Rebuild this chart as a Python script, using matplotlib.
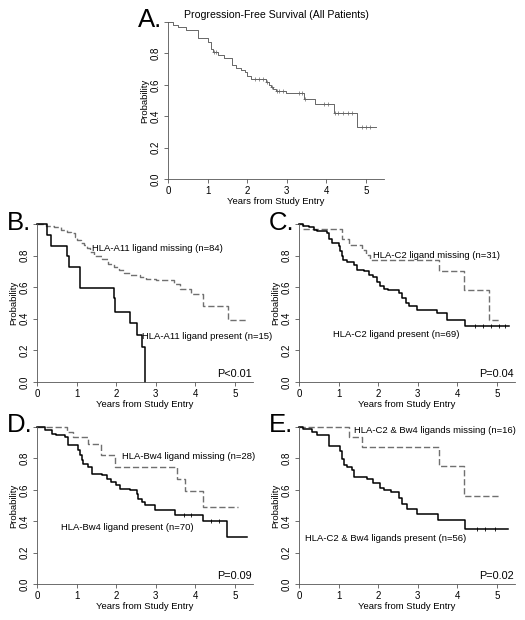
import numpy as np
import matplotlib
matplotlib.use("Agg")
import matplotlib.pyplot as plt

plt.rcParams['font.family'] = ['Liberation Sans', 'DejaVu Sans']

# ---- panel A: all patients
a_t = [0, 0.12, 0.25, 0.45, 0.76, 1.01, 1.08, 1.13, 1.26, 1.41, 1.62, 1.72, 1.85, 1.95, 2.0, 2.1,
       2.48, 2.55, 2.61, 2.65, 2.72, 2.98, 3.44, 3.72, 4.18, 4.78, 5.24]
a_s = [1.0, 0.98, 0.97, 0.95, 0.896, 0.87, 0.826, 0.81, 0.79, 0.77, 0.726, 0.71, 0.695, 0.679, 0.657, 0.64,
       0.62, 0.60, 0.585, 0.572, 0.562, 0.546, 0.507, 0.478, 0.418, 0.333, 0.333]
a_cens = [1.15, 1.2, 2.2, 2.3, 2.4, 2.5, 2.63, 2.75, 2.8, 2.9, 3.3, 3.38, 3.45, 3.95, 4.05, 4.22, 4.3,
          4.42, 4.55, 4.65, 4.9, 5.0, 5.1]

# ---- panel B: HLA-A11
b_pres_t = [0, 0.24, 0.35, 0.77, 0.8, 1.09, 1.94, 1.97, 2.35, 2.53, 2.64, 2.73]
b_pres_s = [1.0, 0.93, 0.86, 0.80, 0.726, 0.595, 0.53, 0.443, 0.371, 0.295, 0.22, 0.0]
b_miss_t = [0, 0.22, 0.42, 0.6, 0.75, 0.85, 0.95, 1.02, 1.1, 1.18, 1.27, 1.35, 1.45, 1.65, 1.8, 1.95,
            2.08, 2.2, 2.35, 2.6, 2.75, 3.0, 3.45, 3.6, 3.88, 4.2, 4.83, 5.3]
b_miss_s = [1.0, 0.99, 0.98, 0.965, 0.95, 0.94, 0.92, 0.90, 0.88, 0.865, 0.845, 0.825, 0.80, 0.78, 0.75, 0.73,
            0.71, 0.69, 0.68, 0.665, 0.65, 0.645, 0.62, 0.59, 0.555, 0.48, 0.39, 0.39]

# ---- panel C: HLA-C2
c_pres_t = [0, 0.1, 0.24, 0.37, 0.45, 0.71, 0.77, 0.83, 1.0, 1.04, 1.08, 1.12, 1.2, 1.38, 1.46, 1.63, 1.76,
            1.88, 1.97, 2.05, 2.14, 2.26, 2.52, 2.6, 2.69, 2.77, 2.98, 3.49, 3.74, 4.2, 5.3]
c_pres_s = [1.0, 0.99, 0.979, 0.964, 0.954, 0.943, 0.907, 0.88, 0.859, 0.827, 0.795, 0.774, 0.76, 0.743, 0.711,
            0.70, 0.68, 0.663, 0.633, 0.605, 0.591, 0.585, 0.563, 0.532, 0.50, 0.479, 0.458, 0.437, 0.395, 0.352, 0.352]
c_pres_cens = [4.45, 4.65, 4.85, 5.05, 5.2]
c_miss_t = [0, 0.1, 1.08, 1.25, 1.58, 1.68, 1.8, 3.53, 4.16, 4.81, 5.08]
c_miss_s = [1.0, 0.968, 0.905, 0.87, 0.838, 0.806, 0.774, 0.70, 0.58, 0.39, 0.39]

# ---- panel D: HLA-Bw4
d_pres_t = [0, 0.2, 0.37, 0.49, 0.71, 0.79, 1.04, 1.09, 1.13, 1.17, 1.3, 1.38, 1.63, 1.76, 1.88, 2.0, 2.09,
            2.35, 2.52, 2.56, 2.65, 2.73, 2.98, 3.48, 4.18, 4.81, 5.3]
d_pres_s = [1.0, 0.979, 0.958, 0.947, 0.936, 0.883, 0.851, 0.82, 0.788, 0.766, 0.745, 0.703, 0.692, 0.671, 0.65,
            0.628, 0.607, 0.597, 0.575, 0.544, 0.522, 0.501, 0.469, 0.442, 0.40, 0.30, 0.30]
d_pres_cens = [3.7, 3.9, 4.4, 4.6]
d_miss_t = [0, 0.75, 0.9, 1.3, 1.61, 1.97, 3.53, 3.74, 4.18, 5.08]
d_miss_s = [1.0, 0.968, 0.936, 0.893, 0.819, 0.745, 0.671, 0.592, 0.49, 0.49]

# ---- panel E: HLA-C2 & Bw4
e_pres_t = [0, 0.1, 0.33, 0.45, 0.75, 0.77, 1.04, 1.09, 1.13, 1.21, 1.34, 1.4, 1.72, 1.88, 2.05, 2.14, 2.33,
            2.52, 2.59, 2.73, 2.98, 3.5, 4.18, 5.28]
e_pres_s = [1.0, 0.989, 0.968, 0.947, 0.926, 0.877, 0.845, 0.798, 0.76, 0.745, 0.724, 0.682, 0.667, 0.646, 0.612,
            0.597, 0.586, 0.548, 0.512, 0.476, 0.444, 0.406, 0.353, 0.353]
e_pres_cens = [4.5, 4.7, 4.95]
e_miss_t = [0, 1.25, 1.6, 3.53, 4.16, 5.08]
e_miss_s = [1.0, 0.9375, 0.875, 0.75, 0.5625, 0.5625]

W, H = 525, 620
fig = plt.figure(figsize=(W / 100, H / 100), dpi=100)
FS = 6.8


def make_axes(left_px, bottom_px, top_px):
    width_px = 5.45 * 39.6
    ax = fig.add_axes([left_px / W, 1 - bottom_px / H, width_px / W, (bottom_px - top_px) / H])
    ax.set_xlim(0, 5.45)
    ax.set_ylim(0, 1.0)
    for sp in ['top', 'right']:
        ax.spines[sp].set_visible(False)
    for sp in ['left', 'bottom']:
        ax.spines[sp].set_linewidth(0.6)
        ax.spines[sp].set_color('#555555')
    ax.set_xticks(range(6))
    ax.set_yticks([0, 0.2, 0.4, 0.6, 0.8, 1.0])
    ax.set_yticklabels(['0.0', '0.2', '0.4', '0.6', '0.8', ''], rotation=90, va='center')
    ax.tick_params(direction='out', length=3, width=0.6, color='#555555', labelsize=7, pad=2)
    ax.set_xlabel('Years from Study Entry', fontsize=FS, labelpad=1)
    ax.set_ylabel('Probability', fontsize=FS, labelpad=1)
    ax.patch.set_alpha(0)
    return ax


def solid(ax, t, s, cens=()):
    ax.step(t, s, where='post', color='black', lw=1.1, clip_on=False)
    if len(cens):
        cy = [s[np.searchsorted(t, c, side='right') - 1] for c in cens]
        ax.plot(cens, cy, ls='none', marker='|', ms=3, mew=0.6, color='black', clip_on=False)


def dashed(ax, t, s):
    ax.step(t, s, where='post', color='#707070', lw=1.0, dashes=(4.5, 2), clip_on=False)


def letter(x_px, y_px, txt):
    fig.text(x_px / W, 1 - y_px / H, txt, fontsize=18.5, ha='left', va='baseline')


# A
axA = make_axes(168, 179, 22)
axA.step(a_t, a_s, where='post', color='#666666', lw=0.7)
cy = [a_s[np.searchsorted(a_t, c, side='right') - 1] for c in a_cens]
axA.plot(a_cens, cy, ls='none', marker='+', ms=3, mew=0.5, color='#666666')
axA.text(2.75, 1.015, 'Progression-Free Survival (All Patients)', fontsize=7.6, ha='center', va='bottom')
letter(138, 27, 'A.')

# B
axB = make_axes(37, 382, 224)
dashed(axB, b_miss_t, b_miss_s)
solid(axB, b_pres_t, b_pres_s)
axB.text(1.39, 0.845, 'HLA-A11 ligand missing (n=84)', fontsize=FS, va='center')
axB.text(2.64, 0.29, 'HLA-A11 ligand present (n=15)', fontsize=FS, va='center', clip_on=False)
axB.text(5.42, 0.02, 'P<0.01', fontsize=7.8, ha='right', va='bottom')
letter(7, 230, 'B.')

# C
axC = make_axes(299, 382, 224)
dashed(axC, c_miss_t, c_miss_s)
solid(axC, c_pres_t, c_pres_s, c_pres_cens)
axC.text(1.87, 0.80, 'HLA-C2 ligand missing (n=31)', fontsize=FS, va='center')
axC.text(0.85, 0.30, 'HLA-C2 ligand present (n=69)', fontsize=FS, va='center')
axC.text(5.42, 0.02, 'P=0.04', fontsize=7.8, ha='right', va='bottom')
letter(269, 230, 'C.')

# D
axD = make_axes(37, 584, 427)
dashed(axD, d_miss_t, d_miss_s)
solid(axD, d_pres_t, d_pres_s, d_pres_cens)
axD.text(2.14, 0.813, 'HLA-Bw4 ligand missing (n=28)', fontsize=FS, va='center')
axD.text(0.6, 0.357, 'HLA-Bw4 ligand present (n=70)', fontsize=FS, va='center')
axD.text(5.42, 0.02, 'P=0.09', fontsize=7.8, ha='right', va='bottom')
letter(7, 432, 'D.')

# E
axE = make_axes(299, 584, 427)
dashed(axE, e_miss_t, e_miss_s)
solid(axE, e_pres_t, e_pres_s, e_pres_cens)
axE.text(1.38, 0.979, 'HLA-C2 & Bw4 ligands missing (n=16)', fontsize=FS, va='center')
axE.text(0.14, 0.29, 'HLA-C2 & Bw4 ligands present (n=56)', fontsize=FS, va='center')
axE.text(5.42, 0.02, 'P=0.02', fontsize=7.8, ha='right', va='bottom')
letter(269, 432, 'E.')

fig.savefig('out.png', dpi=100)
